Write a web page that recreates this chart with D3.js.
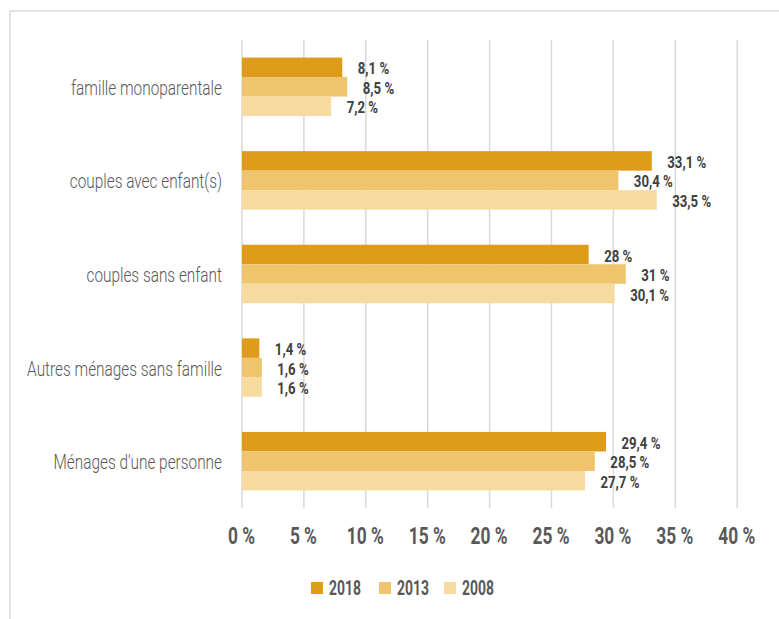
<!DOCTYPE html>
<html>
<head>
<meta charset="utf-8">
<script src="https://cdn.jsdelivr.net/npm/d3@7"></script>
<style>
  body { margin: 0; background: #fff; }
  text { font-family: Roboto, "Noto Sans", sans-serif; }
</style>
</head>
<body>
<script>
// data
var categories = ["famille monoparentale", "couples avec enfant(s)", "couples sans enfant",
  "Autres ménages sans famille", "Ménages d'une personne"];
var years = ["2018", "2013", "2008"];
var v2018 = [8.1, 33.1, 28, 1.4, 29.4];
var v2013 = [8.5, 30.4, 31, 1.6, 28.5];
var v2008 = [7.2, 33.5, 30.1, 1.6, 27.7];
var xTicks = [0, 5, 10, 15, 20, 25, 30, 35, 40];

var colors = ["#df9c1b", "#f0c36d", "#f7da9f"];
var series = [v2018, v2013, v2008];

var W = 779, H = 619;
var margin = { top: 40, left: 242, right: 41.8, bottom: 111 };
var width = W - margin.left - margin.right;
var height = H - margin.top - margin.bottom;

var svg = d3.select("body").append("svg")
  .attr("width", W).attr("height", H);

// the original font is a narrow one: squeeze the text so a sample string gets its width
function squeeze(sel, sample, target) {
  var probe = svg.append("text").text(sample)
    .attr("font-size", sel.attr("font-size")).attr("font-weight", sel.attr("font-weight"));
  var sx = target / probe.node().getComputedTextLength();
  probe.remove();
  sel.each(function () {
    var t = d3.select(this);
    t.attr("transform", "translate(" + t.attr("x") + "," + t.attr("y") + ") scale(" + sx + ",1)")
      .attr("x", 0).attr("y", 0);
  });
}

// outer frame
svg.append("rect")
  .attr("x", 10).attr("y", 11)
  .attr("width", W + 20).attr("height", H + 20)
  .attr("fill", "none").attr("stroke", "#d9d9d9").attr("stroke-width", 1.5);

var g = svg.append("g").attr("transform", "translate(" + margin.left + "," + margin.top + ")");

var x = d3.scaleLinear().domain([0, 40]).range([0, width]);
var y = d3.scaleBand().domain(categories).range([0, height]).paddingInner(0.375).paddingOuter(0.1875);
var y1 = d3.scaleBand().domain(years).range([0, y.bandwidth()]);

// gridlines
g.selectAll(".grid").data(xTicks).enter().append("line")
  .attr("x1", d => x(d)).attr("x2", d => x(d))
  .attr("y1", 0).attr("y2", height)
  .attr("stroke", "#d9d9d9").attr("stroke-width", 1.5);

// tick labels
var ticks = g.selectAll(".tick").data(xTicks).enter().append("text")
  .attr("x", d => x(d) - 0.5).attr("y", height + 36)
  .attr("text-anchor", "middle")
  .attr("font-size", 24).attr("font-weight", "bold").attr("fill", "#595959")
  .text(d => d + " %");
squeeze(ticks, "40 %", 37);

// category labels
var cats = g.selectAll(".cat").data(categories).enter().append("text")
  .attr("x", -20).attr("y", d => y(d) + y.bandwidth() / 2 + 8)
  .attr("text-anchor", "end")
  .attr("font-size", 21).attr("font-weight", 300).attr("fill", "#595959")
  .text(d => d);
squeeze(cats, "Autres ménages sans famille", 195);

var fmt = v => String(v).replace(".", ",") + " %";

series.forEach(function (vals, si) {
  var yr = years[si];
  var grp = g.append("g");
  grp.selectAll("rect").data(vals).enter().append("rect")
    .attr("x", 0)
    .attr("y", (d, i) => y(categories[i]) + y1(yr))
    .attr("width", d => x(d))
    .attr("height", y1.bandwidth())
    .attr("fill", colors[si]);
  var labels = grp.selectAll("text").data(vals).enter().append("text")
    .attr("x", d => x(d) + 15.5)
    .attr("y", (d, i) => y(categories[i]) + y1(yr) + y1.bandwidth() / 2 + 7)
    .attr("font-size", 17).attr("font-weight", "bold").attr("fill", "#404040")
    .text(d => fmt(d));
  squeeze(labels, "29,4 %", 39);
});

// legend
var legX = [311, 379, 444];
var leg = svg.append("g");
years.forEach(function (yr, i) {
  leg.append("rect").attr("x", legX[i]).attr("y", 582).attr("width", 12).attr("height", 12)
    .attr("fill", colors[i]);
  var t = leg.append("text").attr("x", legX[i] + 18).attr("y", 595)
    .attr("font-size", 20).attr("font-weight", "bold").attr("fill", "#595959")
    .text(yr);
  squeeze(t, "2018", 32);
});
</script>
</body>
</html>
